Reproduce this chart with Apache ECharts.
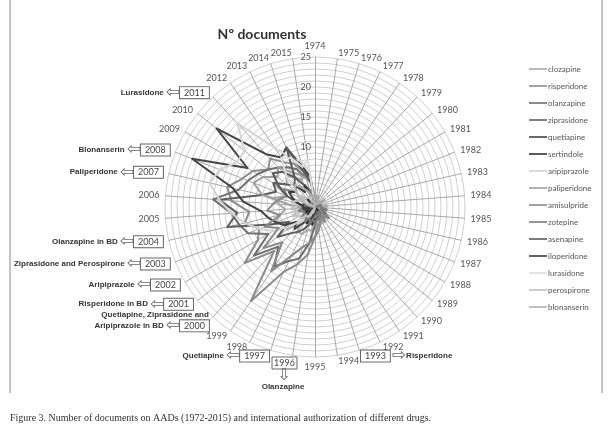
<!DOCTYPE html>
<html><head><meta charset="utf-8">
<script src="https://cdn.jsdelivr.net/npm/echarts@6/dist/echarts.min.js"></script>
<style>html,body{margin:0;padding:0;background:#fff}#c{width:612px;height:443px}</style>
</head><body><div id="c"></div>
<script>
// Years (radar spokes), 1974..2015
const years = [];
for (let y = 1974; y <= 2015; y++) years.push(String(y));

// Approval annotations (year -> drug text)
const notes = {
  '2011': 'Lurasidone', '2008': 'Blonanserin', '2007': 'Paliperidone',
  '2004': 'Olanzapine in BD', '2003': 'Ziprasidone and Perospirone',
  '2002': 'Aripiprazole', '2001': 'Risperidone in BD',
  '2000': 'Quetiapine, Ziprasidone and\nAripiprazole in BD',
  '1997': 'Quetiapine', '1996': 'Olanzapine', '1993': 'Risperidone'
};

const drugs = ['clozapine','risperidone','olanzapine','ziprasidone','quetiapine','sertindole',
  'aripiprazole','paliperidone','amisulpride','zotepine','asenapine','iloperidone',
  'lurasidone','perospirone','blonanserin'];
const colors = ['#a9a9a9','#8c8c8c','#6e6e6e','#5e5e5e','#444444','#333333',
  '#d4d4d4','#a0a0a0','#8a8a8a','#7a7a7a','#5a5a5a','#3c3c3c',
  '#dcdcdc','#c0c0c0','#b0b0b0'];

// values per year 1974..2015 (42 values)
//                 1974 ...................................1994|1995 ......................................2015
const clozapine   = [2,1,2,1,1,1,2,1,1,1,2,1,1,2,2,3,2,2,3,2,3, 3,4,4,5,5,4,6,5,7,6,5,6,7,5,8,6,7,6,5,6,4];
const risperidone = [0,0,0,0,0,0,0,0,0,0,0,0,0,0,0,0,1,1,2,3,3, 5,8,10,12,19,10,15,11,10,12,11,14,15,13,12,10,11,9,8,6,5];
const olanzapine  = [0,0,0,0,0,0,0,0,0,0,0,0,0,0,0,0,0,0,1,1,2, 3,6,9,10,12,9,13,9,12,13,14,17,13,12,11,10,9,8,7,5,4];
const ziprasidone = [0,0,0,0,0,0,0,0,0,0,0,0,0,0,0,0,0,0,0,0,1, 1,2,3,4,5,6,8,5,8,15,13,16,9,7,8,6,5,6,4,3,2];
const quetiapine  = [0,0,0,0,0,0,0,0,0,0,0,0,0,0,0,0,0,0,0,0,0, 1,1,2,3,3,5,4,6,7,8,9,12,14,22,13,21,12,10,11,7,5];
const sertindole  = [0,0,0,0,0,0,0,0,0,0,0,0,0,0,0,0,1,1,1,2,2, 2,3,2,3,2,2,1,2,1,2,1,1,2,1,1,1,2,1,1,0,1];
const aripiprazole= [0,0,0,0,0,0,0,0,0,0,0,0,0,0,0,0,0,0,0,0,0, 0,0,1,1,2,3,5,8,10,12,14,16,18,17,15,15,19,12,9,8,6];
const paliperidone= [0,0,0,0,0,0,0,0,0,0,0,0,0,0,0,0,0,0,0,0,0, 0,0,0,0,0,0,0,0,0,1,2,4,9,11,10,8,9,7,6,5,4];
const amisulpride = [0,0,0,0,0,0,0,0,0,0,1,1,2,1,2,3,2,3,2,3,4, 5,6,7,9,13,8,11,7,9,6,8,7,6,5,6,4,5,4,3,3,2];
const zotepine    = [0,0,0,0,0,0,0,0,1,1,1,1,2,1,2,2,1,2,1,2,2, 3,2,3,2,3,2,3,2,2,3,2,2,1,2,1,1,1,1,1,0,0];
const asenapine   = [0,0,0,0,0,0,0,0,0,0,0,0,0,0,0,0,0,0,0,0,0, 0,0,0,0,0,0,0,0,0,1,1,2,3,5,7,9,8,6,11,6,4];
const iloperidone = [0,0,0,0,0,0,0,0,0,0,0,0,0,0,0,0,0,0,0,0,0, 0,0,0,0,0,0,0,1,1,1,2,2,3,4,5,4,5,3,4,2,2];
const lurasidone  = [0,0,0,0,0,0,0,0,0,0,0,0,0,0,0,0,0,0,0,0,0, 0,0,0,0,0,0,0,0,0,0,0,0,0,1,2,4,7,10,9,7,8];
const perospirone = [0,0,0,0,0,0,0,0,0,0,0,0,0,0,0,0,0,0,0,0,0, 0,0,0,1,2,2,3,3,4,3,4,3,4,3,2,3,2,2,1,1,1];
const blonanserin = [0,0,0,0,0,0,0,0,0,0,0,0,0,0,0,0,0,0,0,0,0, 0,0,0,0,0,0,0,0,0,0,0,0,1,2,3,4,5,4,3,2,2];

const values = [clozapine,risperidone,olanzapine,ziprasidone,quetiapine,sertindole,
  aripiprazole,paliperidone,amisulpride,zotepine,asenapine,iloperidone,
  lurasidone,perospirone,blonanserin];

const maxValue = 25;
const ticks = [0, 5, 10, 15, 20, 25];

// ECharts radar runs counter-clockwise; the original runs clockwise from 1974 at the top,
// so spokes are listed as 1974, 2015, 2014, ..., 1975.
const order = [0];
for (let i = years.length - 1; i >= 1; i--) order.push(i);

const chart = echarts.init(document.getElementById('c'), null, {renderer: 'canvas'});

function nameFmt(name) {
  const n = notes[name];
  if (!n) return '{y|' + name + '}';
  if (name === '1996') return '';            // drawn as a separate call-out below
  if (name === '1993') return '{b|' + name + '}{a|⇨}{d|' + n + '}';
  if (name === '2000') return '{d|' + n.split('\n')[0] + '}\n{d|' + n.split('\n')[1] + '}{a|⇦}{b|' + name + '}';
  return '{d|' + n + '}{a|⇦}{b|' + name + '}';
}

const boxFont = '9px Lato';
const drugFont = 'bold 8px "Liberation Sans"';

chart.setOption({
  animation: false,
  title: {text: 'Nº documents', left: 257, top: 22, textAlign: 'center',
    textStyle: {fontFamily: 'Lato', fontWeight: 'bold', fontSize: 14, color: '#333'}},
  legend: {
    orient: 'vertical', left: 524, top: 60, itemGap: 9, itemWidth: 18, itemHeight: 8,
    icon: 'path://M0,3.2 L18,3.2 L18,4.8 L0,4.8 Z',
    textStyle: {fontFamily: 'Lato', fontSize: 8, color: '#555', padding: [0, 0, 0, -4]},
    data: drugs
  },
  radar: {
    center: [315, 207], radius: 150, startAngle: 90, shape: 'circle', splitNumber: 25,
    indicator: order.map(i => ({name: years[i], min: 0, max: maxValue})),
    nameGap: 6,
    axisName: {
      formatter: nameFmt,
      rich: {
        y: {fontFamily: 'Lato', fontSize: 9, color: '#555'},
        b: {fontFamily: 'Lato', fontSize: 9, color: '#444', borderColor: '#666', borderWidth: 1,
            padding: [1, 4, 1, 4], backgroundColor: '#fff', align: 'center'},
        a: {fontFamily: 'DejaVu Sans', fontSize: 17, color: '#666', padding: [0, 0, 0, 2], lineHeight: 13},
        d: {fontFamily: 'Liberation Sans', fontWeight: 'bold', fontSize: 8, color: '#333', align: 'right', lineHeight: 9}
      }
    },
    axisLine: {lineStyle: {color: '#a8a8a8', width: 1}},
    splitLine: {lineStyle: {color: '#cfcfcf', width: 1}},
    splitArea: {show: false}
  },
  polar: {center: [315, 207], radius: 150},
  angleAxis: {show: false, startAngle: 90, min: 0, max: 360},
  radiusAxis: {min: 0, max: maxValue, interval: 5, axisLine: {show: false}, axisTick: {show: false},
    splitLine: {show: false},
    axisLabel: {fontFamily: 'Lato', fontSize: 9, color: '#555', margin: 4,
      formatter: v => ticks.includes(v) ? String(v) : ''}},
  graphic: [
    {type: 'line', shape: {x1: 10, y1: 0, x2: 10, y2: 393}, style: {stroke: '#888', lineWidth: 1}, silent: true},
    {type: 'line', shape: {x1: 602, y1: 0, x2: 602, y2: 393}, style: {stroke: '#888', lineWidth: 1}, silent: true},
    // 1996 call-out (box below the 1996 spoke, arrow down to the drug name)
    {type: 'rect', shape: {x: 272, y: 357, width: 25, height: 12}, style: {fill: '#fff', stroke: '#666', lineWidth: 1}, z: 10},
    {type: 'text', x: 284.5, y: 363.5, z: 11, style: {text: years[years.indexOf('1996')], font: boxFont, fill: '#444', align: 'center', verticalAlign: 'middle'}},
    {type: 'text', x: 284, y: 376, z: 11, style: {text: '⇩', font: '16px "DejaVu Sans"', fill: '#666', align: 'center', verticalAlign: 'middle'}},
    {type: 'text', x: 283, y: 387, z: 11, style: {text: notes['1996'], font: drugFont, fill: '#333', align: 'center', verticalAlign: 'middle'}},
    {type: 'text', left: 10, top: 413, style: {text: 'Figure 3. Number of documents on AADs (1972-2015) and international authorization of different drugs.',
      font: '10px "Liberation Serif"', fill: '#333'}}
  ],
  series: [{
    type: 'radar', symbol: 'none',
    data: drugs.map((d, i) => ({name: d, value: order.map(k => values[i][k]),
      lineStyle: {color: colors[i], width: 2}, itemStyle: {color: colors[i]}}))
  }]
});
</script></body></html>
